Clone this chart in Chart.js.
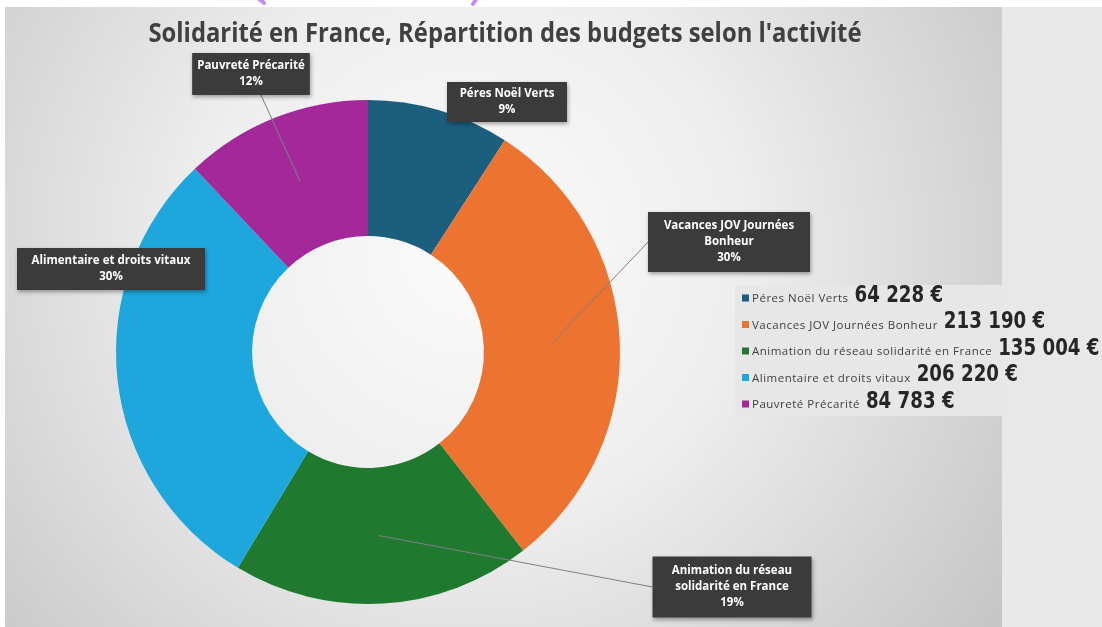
<!DOCTYPE html>
<html>
<head>
    <meta charset='UTF-8'>
    <title>Solidarité en France</title>
    <style>
        html, body { margin: 0; padding: 0; background: #fff; }
        #chart-container { width: 1102px; height: 627px; position: relative; }
    </style>
</head>
<body>
    <script src="https://cdn.jsdelivr.net/npm/chart.js@4.4.1/dist/chart.umd.min.js"></script>
    <div id="chart-container">
        <canvas id="chart" width="1102" height="627"></canvas>
    </div>

    <script>
        // ===== data =====
        const chartTitle = "Solidarité en France, Répartition des budgets selon l'activité";
        const categories = ['Péres Noël Verts', 'Vacances JOV Journées Bonheur', 'Animation du réseau solidarité en France', 'Alimentaire et droits vitaux', 'Pauvreté Précarité'];
        const budgets = [64228, 213190, 135004, 206220, 84783];
        const percentLabels = ['9%', '30%', '19%', '30%', '12%'];
        const calloutLines = [
            ['Péres Noël Verts'],
            ['Vacances JOV Journées', 'Bonheur'],
            ['Animation du réseau', 'solidarité en France'],
            ['Alimentaire et droits vitaux'],
            ['Pauvreté Précarité']
        ];
        const sliceColors = ['#1b5e7e', '#ec7430', '#1f7a30', '#1da7dc', '#a3299b'];

        // callout boxes: centre offset from the doughnut centre, box size, leader line or not
        const calloutOffsets = [[139, -250], [361, -110], [364, 235], [-257, -83], [-117, -278]];
        const calloutSizes = [[120, 40], [162, 60], [159, 61], [188, 42], [112, 42]];
        const calloutLeaders = [false, true, true, false, true];

        function formatEuro(v) {
            return String(v).replace(/\B(?=(\d{3})+(?!\d))/g, ' ') + ' €';
        }

        // background: white page, radial grey chart area, flat strip on the right, purple marks
        const backgroundPlugin = {
            id: 'background',
            beforeDraw(chart) {
                const ctx = chart.ctx;
                ctx.save();
                ctx.fillStyle = '#ffffff';
                ctx.fillRect(0, 0, chart.width, chart.height);
                let g = ctx.createRadialGradient(470, 250, 0, 470, 250, 680);
                g.addColorStop(0, '#fbfbfb');
                g.addColorStop(0.4, '#eeeeee');
                g.addColorStop(1, '#c2c2c2');
                ctx.fillStyle = g;
                ctx.fillRect(5, 7, 997, 620);
                ctx.fillStyle = '#e8e8e8';
                ctx.fillRect(1002, 7, 100, 620);
                ctx.fillStyle = '#e7e7e7';
                ctx.fillRect(735, 285, 267, 131);
                ctx.strokeStyle = '#c38ef0';
                ctx.lineWidth = 4;
                ctx.lineCap = 'round';
                ctx.beginPath();
                ctx.moveTo(258, -2);
                ctx.lineTo(264, 3);
                ctx.moveTo(477, -2);
                ctx.lineTo(473, 4);
                ctx.stroke();
                ctx.restore();
            }
        };

        // title, data callouts and the legend with the amounts
        const overlayPlugin = {
            id: 'overlay',
            afterDraw(chart) {
                const ctx = chart.ctx;
                ctx.save();

                // title
                ctx.font = 'bold 26px "Open Sans", sans-serif';
                ctx.fillStyle = '#404040';
                ctx.textAlign = 'center';
                ctx.textBaseline = 'alphabetic';
                let tw = ctx.measureText(chartTitle).width;
                ctx.save();
                ctx.translate(505, 42);
                ctx.scale(Math.min(1, 713 / tw), 1);
                ctx.fillText(chartTitle, 0, 0);
                ctx.restore();

                // callouts
                const meta = chart.getDatasetMeta(0);
                meta.data.forEach(function(arc, i) {
                    const p = arc.getProps(['x', 'y', 'startAngle', 'endAngle', 'innerRadius', 'outerRadius'], true);
                    const lines = calloutLines[i].concat([percentLabels[i]]);
                    const lh = 16;
                    ctx.font = 'bold 11.5px "Open Sans", sans-serif';
                    let tw2 = 0;
                    lines.forEach(function(l) { tw2 = Math.max(tw2, ctx.measureText(l).width); });
                    const bw = Math.max(calloutSizes[i][0], tw2 + 10);
                    const bh = calloutSizes[i][1];
                    const cx = p.x + calloutOffsets[i][0];
                    const cy = p.y + calloutOffsets[i][1];
                    const bx = cx - bw / 2;
                    const by = cy - bh / 2;

                    if (calloutLeaders[i]) {
                        const a = (p.startAngle + p.endAngle) / 2;
                        const r = (p.innerRadius + p.outerRadius) / 2;
                        const ax = p.x + r * Math.cos(a);
                        const ay = p.y + r * Math.sin(a);
                        let sx, sy;
                        if (ax < bx) { sx = bx; sy = cy; }
                        else if (ax > bx + bw) { sx = bx + bw; sy = cy; }
                        else if (ay > by + bh) { sx = cx + 10; sy = by + bh; }
                        else { sx = cx; sy = by; }
                        ctx.strokeStyle = '#808080';
                        ctx.lineWidth = 1;
                        ctx.beginPath();
                        ctx.moveTo(sx, sy);
                        ctx.lineTo(ax, ay);
                        ctx.stroke();
                    }

                    ctx.save();
                    ctx.shadowColor = 'rgba(0,0,0,0.35)';
                    ctx.shadowBlur = 4;
                    ctx.shadowOffsetX = 1;
                    ctx.shadowOffsetY = 2;
                    ctx.fillStyle = '#3b3b3b';
                    ctx.fillRect(bx, by, bw, bh);
                    ctx.restore();

                    ctx.fillStyle = '#ffffff';
                    ctx.textAlign = 'center';
                    ctx.textBaseline = 'middle';
                    const top = cy - lines.length * lh / 2;
                    lines.forEach(function(l, k) {
                        ctx.fillText(l, cx, top + lh / 2 + k * lh);
                    });
                });

                // legend
                const lx = 742;
                const ly = 298;
                const step = 26.5;
                chart.data.labels.forEach(function(label, i) {
                    const y = ly + i * step;
                    ctx.fillStyle = chart.data.datasets[0].backgroundColor[i];
                    ctx.fillRect(lx, y - 3.5, 7, 7);
                    ctx.font = '11.5px "Open Sans", sans-serif';
                    ctx.letterSpacing = '0.5px';
                    ctx.fillStyle = '#404040';
                    ctx.textAlign = 'left';
                    ctx.textBaseline = 'middle';
                    ctx.fillText(label, lx + 10, y + 1);
                    const lw = ctx.measureText(label).width;
                    ctx.letterSpacing = '0px';
                    ctx.font = 'bold 23px "Liberation Sans Narrow", "DejaVu Sans Condensed", sans-serif';
                    ctx.fillStyle = '#262626';
                    ctx.save();
                    ctx.translate(lx + 10 + lw + 6, y - 2);
                    ctx.scale(0.88, 1);
                    ctx.fillText(formatEuro(chart.data.datasets[0].data[i]), 0, 0);
                    ctx.restore();
                });

                ctx.restore();
            }
        };

        const context = document.getElementById('chart').getContext('2d');
        const chart = new Chart(context, {
            type: 'doughnut',
            data: {
                labels: categories,
                datasets: [{
                    data: budgets,
                    backgroundColor: sliceColors,
                    borderWidth: 0
                }]
            },
            options: {
                responsive: false,
                animation: false,
                devicePixelRatio: 1,
                cutout: '46%',
                layout: {
                    padding: { left: 116, right: 482, top: 100, bottom: 23 }
                },
                plugins: {
                    legend: { display: false },
                    tooltip: { enabled: false },
                    title: { display: false }
                }
            },
            plugins: [backgroundPlugin, overlayPlugin]
        });
    </script>
</body>
</html>
